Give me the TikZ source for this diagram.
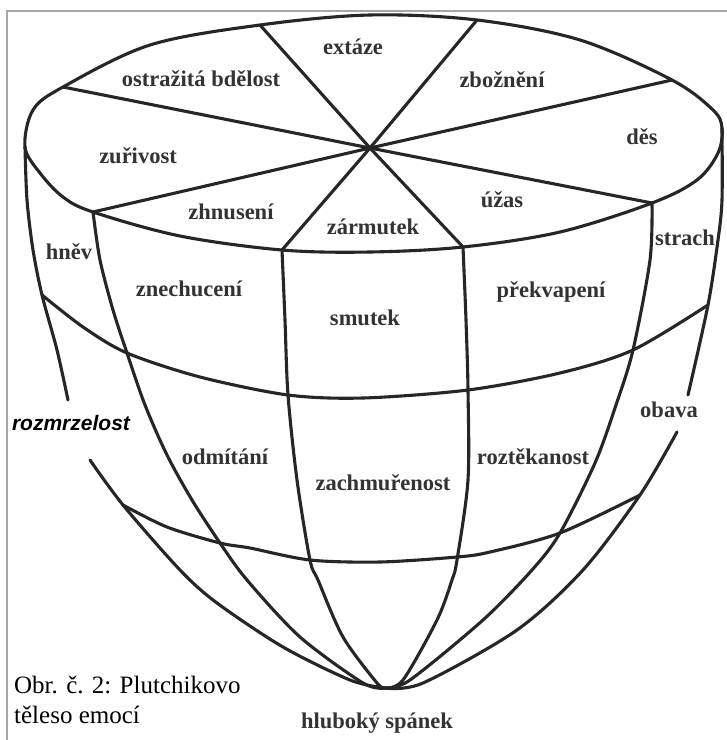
\documentclass[tikz,border=0pt]{standalone}
\usepackage{fontspec}
\setmainfont{Liberation Serif}
\newfontfamily\lsans{Liberation Sans}
\begin{document}
\begin{tikzpicture}[x=1pt,y=-1pt,
  edge/.style={line width=3.1pt, draw=black!85, line cap=round, line join=round},
  lab/.style={font=\fontsize{22.5}{26}\selectfont\bfseries, text=black!80, inner sep=0pt},
  capt/.style={font=\fontsize{25}{29}\selectfont, text=black, inner sep=0pt, anchor=base west}
]
\useasboundingbox (0,0) rectangle (727,740);
\fill[white] (0,0) rectangle (727,740);
\draw[gray!70, line width=1.2pt] (7,740) -- (7,11) -- (727,11);

% top ellipse
\draw[edge] plot[smooth cycle, tension=0.55] coordinates {
  (25,147) (33,110) (63,87) (150,45) (260,25) (370,15) (477,20) (580,40)
  (672,80) (713,110) (722,128) (718,153) (697,180) (652,203) (560,232)
  (463,247) (370,252) (282,250) (180,236) (93,212) (63,197) (40,173)};

% spokes
\coordinate (C) at (370,148);
\coordinate (s1) at (63,87);
\coordinate (s2) at (260,25);
\coordinate (s3) at (477,20);
\coordinate (s4) at (672,80);
\coordinate (s5) at (652,203);
\coordinate (s6) at (463,247);
\coordinate (s7) at (282,250);
\coordinate (s8) at (93,212);
\foreach \s in {s1,s2,s3,s4,s5,s6,s7,s8} \draw[edge] (C) -- (\s);

% outer left meridian (with gap)
\draw[edge] plot[smooth] coordinates {(25,147) (27,200) (33,250) (42,295) (57,350) (68,400)};
\draw[edge] plot[smooth] coordinates {(90,460) (123,505) (180,570) (217,603) (283,647) (350,680) (385,688)};
% meridian 2
\draw[edge] plot[smooth] coordinates {(93,212) (100,260) (113,310) (127,353) (145,405) (167,455) (192,500) (220,543) (247,580) (300,637) (363,683) (385,688)};
% meridian 3
\draw[edge] plot[smooth] coordinates {(282,250) (285,320) (288,395) (297,480) (310,560) (318,580) (343,637) (377,683) (385,688)};
% meridian 4
\draw[edge] plot[smooth] coordinates {(463,247) (466,320) (468,390) (468,480) (457,560) (452,580) (437,620) (403,680) (385,688)};
% meridian 5
\draw[edge] plot[smooth] coordinates {(652,203) (650,260) (633,350) (616,405) (595,463) (560,533) (532,570) (483,620) (410,680) (385,688)};
% outer right meridian (with gap)
\draw[edge] plot[smooth] coordinates {(722,128) (722,200) (718,240) (708,305) (688,395)};
\draw[edge] plot[smooth] coordinates {(677,432) (640,495) (583,570) (517,630) (423,683) (385,688)};

% middle ring
\draw[edge] plot[smooth] coordinates {(42,295) (83,327) (127,353) (200,377) (288,395) (363,398) (468,390) (560,373) (633,350) (708,305)};
% lower ring
\draw[edge] plot[smooth] coordinates {(123,505) (167,527) (220,543) (250,548) (310,560) (380,562) (457,557) (490,552) (560,533) (640,495)};

% labels
\node[lab] (extaze) at (353,47) {extáze};
\node[lab] (ostraz) at (201,79) {ostražitá bdělost};
\node[lab] (zbozneni) at (502,80) {zbožnění};
\node[lab] (des) at (642,137) {děs};
\node[lab] (zurivost) at (138,156) {zuřivost};
\node[lab] (uzas) at (502,200) {úžas};
\node[lab] (zhnuseni) at (231,212) {zhnusení};
\node[lab] (zarmutek) at (373,227) {zármutek};
\node[lab] (hnev) at (69,252) {hněv};
\node[lab] (strach) at (685,238) {strach};
\node[lab] (znechuceni) at (189,289) {znechucení};
\node[lab] (smutek) at (365,318) {smutek};
\node[lab] (prekvapeni) at (551,292) {překvapení};
\node[lab] (odmitani) at (225,457) {odmítání};
\node[lab] (roztekanost) at (533,457) {roztěkanost};
\node[lab] (obava) at (669,410) {obava};
\node[lab] (zachmurenost) at (383,483) {zachmuřenost};
\node[lab, anchor=base] (spanek) at (377,728) {hluboký spánek};
\node[inner sep=0pt, font=\lsans\fontsize{21}{24}\selectfont\bfseries\itshape] (rozmrzelost) at (71,423) {rozmrzelost};

% caption
\node[capt] (cap1) at (14,693) {Obr. č. 2: Plutchikovo};
\node[capt] (cap2) at (14,723) {těleso emocí};
\end{tikzpicture}
\end{document}
